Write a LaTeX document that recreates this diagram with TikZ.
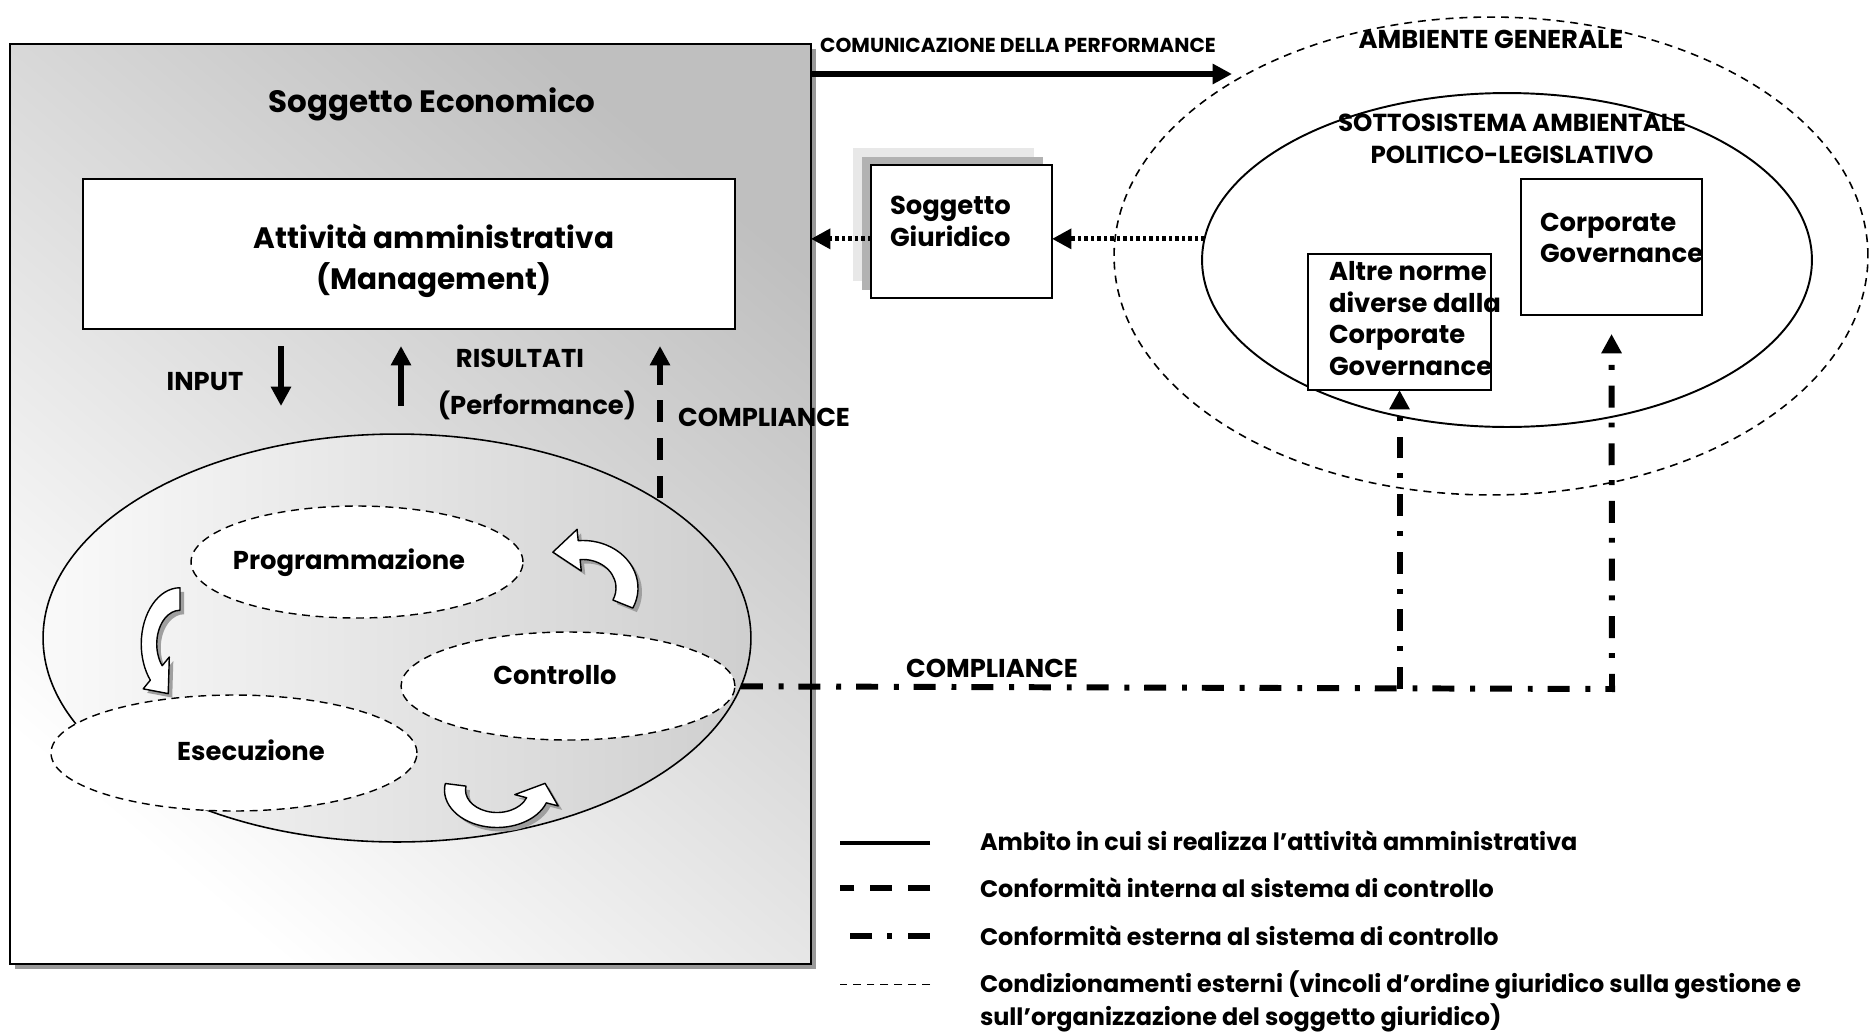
\documentclass[tikz,border=0pt]{standalone}
\usepackage{fontspec}
\setmainfont{Poppins}
\usetikzlibrary{shapes.geometric,arrows.meta,shadows}
\tikzset{inner sep=0pt, outer sep=0pt}
\tikzset{
  bigtxt/.style={font=\bfseries\fontsize{17.6}{23.2}\selectfont, align=center},
  midtxt/.style={font=\bfseries\fontsize{14.7}{17.9}\selectfont, align=center},
  smalltxt/.style={font=\bfseries\fontsize{11.5}{13}\selectfont},
  legtxt/.style={font=\bfseries\fontsize{13.6}{18.7}\selectfont, anchor=west, align=left},
  econbox/.style={draw, line width=1pt, shading=axis, top color=gray!50, bottom color=white,
    shading angle=-40, drop shadow={shadow xshift=2.8pt, shadow yshift=-2.8pt, fill=gray!80, opacity=1}},
  whitebox/.style={draw, line width=1.1pt, fill=white, rectangle},
  phase/.style={ellipse, draw, fill=white, line width=0.8pt, dash pattern=on 4.5pt off 3.2pt},
  solidline/.style={line width=3.2pt},
  intline/.style={line width=3.4pt, dash pattern=on 12.5pt off 9pt},
  extline/.style={line width=3.4pt, dash pattern=on 12.5pt off 9pt on 2.8pt off 8.5pt},
  condline/.style={line width=3pt, dash pattern=on 2pt off 1.7pt},
  thinline/.style={line width=0.9pt, dash pattern=on 4.5pt off 3.4pt},
  tip/.style={-{Triangle[length=11pt,width=11pt]}},
  bent/.pic={
    \path[pic actions, line join=round] (\bfrom:1.25) arc[start angle=\bfrom, end angle=\bto, radius=1.25]
      -- (\bto:1.55) -- ({\bto+31}:1.166) -- (\bto:0.45) -- (\bto:0.75)
      arc[start angle=\bto, end angle=\bfrom, radius=0.75] -- cycle;
  }
}

\begin{document}
\begin{tikzpicture}[x=0.02cm, y=-0.02cm]
\useasboundingbox (0,0) rectangle (1870,1032);

% soggetto economico
\node[econbox, minimum width=16.02cm, minimum height=18.4cm] (econ) at (410.5,504) {};
\node[bigtxt] (econtxt) at (432,104) {Soggetto Economico};
\node[whitebox, minimum width=13.04cm, minimum height=3cm] (mgmt) at (409,254) {};
\node[bigtxt, font=\bfseries\fontsize{16.8}{23.2}\selectfont] (mgmttxt) at (434,261) {Attività amministrativa\\(Management)};

\coordinate (inA) at (281,346); \coordinate (inB) at (281,406);
\coordinate (outA) at (401,406); \coordinate (outB) at (401,346);
\draw[solidline, tip] (inA) -- (inB);
\draw[solidline, tip] (outA) -- (outB);
\node[midtxt] (input) at (205,382) {INPUT};
\node[midtxt] (risult) at (520,358) {RISULTATI};
\node[midtxt] (perf) at (537,405) {(Performance)};

% ciclo di gestione
\node[ellipse, draw, line width=0.9pt, minimum width=14.16cm, minimum height=8.16cm,
  left color=gray!4, right color=gray!38] (ciclo) at (397,638) {};
\node[phase, minimum width=6.64cm, minimum height=2.24cm] (prog) at (357,562) {};
\node[phase, minimum width=6.68cm, minimum height=2.16cm] (contr) at (568,686) {};
\node[phase, minimum width=7.32cm, minimum height=2.32cm] (esec) at (234,753) {};
\node[midtxt] (progtxt) at (349,563) {Programmazione};
\node[midtxt] (contrtxt) at (555,675) {Controllo};
\node[midtxt] (esectxt) at (251,750) {Esecuzione};

\foreach \bx/\by/\bsx/\bsy/\bfrom/\bto in {180/644/31/-45/90/220, 583/588/44/-38/-25/95, 497/790/42/-30/170/340} {
  \pic[fill=gray!75, xscale=\bsx, yscale=\bsy] at (\bx+4,\by+4) {bent};
  \pic[draw, fill=white, line width=0.8pt, xscale=\bsx, yscale=\bsy] at (\bx,\by) {bent};
} % end of \foreach \bx

% compliance interna
\coordinate (compA) at (660,498); \coordinate (compB) at (660,346);
\draw[intline, tip] (compA) -- (compB);
\node[midtxt] (comp1) at (764,417) {COMPLIANCE};

% ambiente
\node[ellipse, draw, thinline, minimum width=15.08cm, minimum height=9.56cm] (ambiente) at (1491,256) {};
\node[ellipse, draw, line width=1.1pt, minimum width=12.2cm, minimum height=6.68cm] (sotto) at (1507,260) {};
\node[midtxt] (ambtxt) at (1491,39) {AMBIENTE GENERALE};
\node[midtxt, font=\bfseries\fontsize{14}{18.1}\selectfont] (sottotxt) at (1512,139) {SOTTOSISTEMA AMBIENTALE\\POLITICO-LEGISLATIVO};
\node[whitebox, minimum width=3.62cm, minimum height=2.72cm] (corp) at (1611.5,247) {};
\node[midtxt, anchor=west, align=left] (corptxt) at (1540,238) {Corporate\\Governance};
\node[whitebox, minimum width=3.66cm, minimum height=2.72cm] (altre) at (1399.5,322) {};
\node[midtxt, anchor=west, align=left] (altretxt) at (1329,318.5) {Altre norme\\diverse dalla\\Corporate\\Governance};

% soggetto giuridico
\node[whitebox, minimum width=3.62cm, minimum height=2.66cm,
  general shadow={shadow xshift=-10.2pt, shadow yshift=9.6pt, fill=gray!18, opacity=1},
  general shadow={shadow xshift=-5.1pt, shadow yshift=4.5pt, fill=gray!60, opacity=1}] (giur) at (961.5,231.5) {};
\node[midtxt, anchor=west, align=left] (giurtxt) at (890,221.5) {Soggetto\\Giuridico};
\draw[condline, tip] (sotto.176) -- (sotto.176 -| giur.east);
\draw[condline, tip] (giur.west |- sotto.176) -- (econ.east |- sotto.176);

% comunicazione
\coordinate (commend) at (1232,74);
\draw[solidline, tip] (econ.east |- commend) -- (commend);
\node[smalltxt] (commtxt) at (1018,45) {COMUNICAZIONE DELLA PERFORMANCE};

% compliance esterna
\coordinate (cjoin) at (1612,689);
\draw[extline, tip, shorten >=10.8pt] (ciclo.-8.5) -- (cjoin) -- (corp.south);
\draw[extline, tip] (altre.south |- cjoin) -- (altre.south);
\node[midtxt] (comp2) at (992,668) {COMPLIANCE};

% legenda
\node[legtxt] (leg1) at (980,841) {Ambito in cui si realizza l’attività amministrativa};
\node[legtxt] (leg2) at (980,888) {Conformità interna al sistema di controllo};
\node[legtxt] (leg3) at (980,936) {Conformità esterna al sistema di controllo};
\node[legtxt] (leg4) at (980,1001.5) {Condizionamenti esterni (vincoli d’ordine giuridico sulla gestione e\\sull’organizzazione del soggetto giuridico)};
\draw[line width=2.8pt] (leg1.west) ++(-50,2) -- ++(-90,0);
\draw[intline] (leg2.west) ++(-50,0) -- ++(-90,0);
\draw[extline] (leg3.west) ++(-50,0) -- ++(-90,0);
\draw[thinline] (leg4.west) ++(-50,-17) -- ++(-90,0);
\end{tikzpicture}
\end{document}
